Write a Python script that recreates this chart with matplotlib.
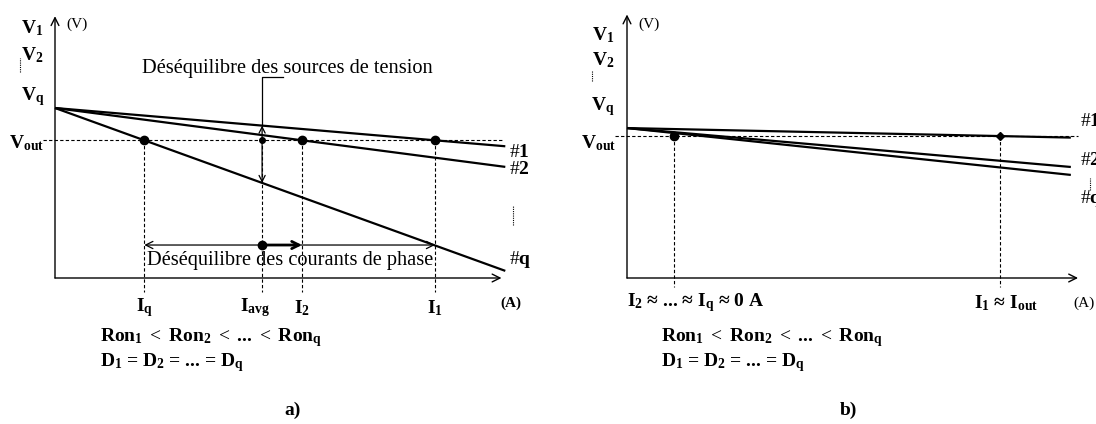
import numpy as np
import matplotlib.pyplot as plt

plt.rcParams['font.family'] = ['Liberation Serif', 'DejaVu Serif']
plt.rcParams['mathtext.fontset'] = 'custom'
plt.rcParams['mathtext.rm'] = 'Liberation Serif'
plt.rcParams['mathtext.bf'] = 'Liberation Serif:bold'
plt.rcParams['mathtext.it'] = 'Liberation Serif:italic'

# --- panel a) : unequal Ron, all phases deliver current
vq_a = 10.0
vout_a = 8.1
phases_a = ['1', '2', 'q']
i_cross_a = [10.0, 6.5, 2.35]    # current of each phase at Vout
i_avg_a = 5.45
i_end_a = 11.85
cur_labels_a = [r'$\mathbf{I_q}$', r'$\mathbf{I_{avg}}$', r'$\mathbf{I_2}$', r'$\mathbf{I_1}$']
cur_values_a = [2.35, 5.45, 6.5, 10.0]

# --- panel b) : phase 1 takes all the current
vq_b = 8.82
vout_b = 8.35
phases_b = ['1', '2', 'q']
ron_b = [0.048, 0.196, 0.236]
i_low_b = 1.24
i_out_b = 9.82
i_end_b = 11.68

ron_text = r'Ron$_\mathbf{1}$ $\mathrm{<}$ Ron$_\mathbf{2}$ $\mathrm{<}$ ... $\mathrm{<}$ Ron$_\mathbf{q}$'
d_text = r'D$_\mathbf{1}$ = D$_\mathbf{2}$ = ... = D$_\mathbf{q}$'

FS = 14
YLIM = (-146 / 17, 278 / 17)
DASH = dict(color='black', lw=0.8, ls=(0, (3, 2)), clip_on=False)


def arrow(ax, start, end, style='->', lw=1.0, ms=14):
    ax.annotate('', xy=end, xytext=start, annotation_clip=False,
                arrowprops=dict(arrowstyle=style, lw=lw, color='black',
                                shrinkA=0, shrinkB=0, mutation_scale=ms))


def draw_frame(ax, xmax, ymax):
    ax.set_ylim(*YLIM)
    ax.axis('off')
    arrow(ax, (0, 0), (0, ymax))
    arrow(ax, (0, 0), (xmax, 0))


def left_labels(ax, ys, xc, dot_x, dot_y):
    names = [r'$\mathbf{V_1}$', r'$\mathbf{V_2}$', r'$\mathbf{V_q}$', r'$\mathbf{V_{out}}$']
    for name, y, x in zip(names, ys, xc):
        ax.text(x, y, name, fontsize=FS, ha='center', va='center')
    ax.plot([dot_x, dot_x], dot_y, color='black', lw=0.8, ls=(0, (1, 1)), clip_on=False)
    ax.text(0.58, 14.9, '(V)', fontsize=11, ha='center', va='center')


fig = plt.figure(figsize=(10.96, 4.24), dpi=100)

# ---------------- a)
ax = fig.add_axes([0, 0, 0.5, 1])
ax.set_xlim(-55 / 38, 493 / 38)
draw_frame(ax, 11.75, 15.4)

ax.plot([-0.32, 11.8], [vout_a, vout_a], **DASH)
for ic in i_cross_a:
    ron = (vq_a - vout_a) / ic
    ax.plot([0, i_end_a], [vq_a, vq_a - ron * i_end_a], color='black', lw=1.6,
            solid_capstyle='butt', clip_on=False)
for ic in cur_values_a:
    ax.plot([ic, ic], [vout_a, -0.82], **DASH)
ax.plot(i_cross_a, [vout_a] * 3, 'o', color='black', ms=6, clip_on=False)
ax.plot([i_avg_a], [vout_a], 'o', color='black', ms=4, clip_on=False)

# voltage unbalance pointer
v1_avg = vq_a - (vq_a - vout_a) / i_cross_a[0] * i_avg_a
vq_avg = vq_a - (vq_a - vout_a) / i_cross_a[2] * i_avg_a
ax.plot([i_avg_a, i_avg_a, 6.0], [v1_avg, 11.8, 11.8], color='black', lw=0.9, clip_on=False)
arrow(ax, (i_avg_a, v1_avg), (i_avg_a, vq_avg), style='<->', lw=0.9, ms=11)
ax.text(6.12, 12.35, 'Déséquilibre des sources de tension', fontsize=14.7,
        ha='center', va='center')

# current unbalance arrows
arrow(ax, (i_cross_a[2], 1.94), (i_cross_a[0], 1.94), style='<->', lw=0.9, ms=13)
arrow(ax, (i_avg_a, 1.94), (i_cross_a[1], 1.94), style='->', lw=2.0, ms=13)
ax.plot([i_avg_a], [1.94], 'o', color='black', ms=6, clip_on=False)
ax.text(6.2, 1.0, 'Déséquilibre des courants de phase', fontsize=14.7,
        ha='center', va='center')

left_labels(ax, [14.7, 13.1, 10.65, 7.94], [-0.6, -0.6, -0.58, -0.76], -0.92, [12.1, 12.94])
for name, y in zip(phases_a, [7.4, 6.4, 1.06]):
    ax.text(11.95, y, '#' + r'$\mathbf{%s}$' % name, fontsize=FS, ha='left', va='center')
ax.plot([12.05, 12.05], [3.1, 4.3], color='black', lw=0.8, ls=(0, (1, 1)), clip_on=False)

for lab, ic in zip(cur_labels_a, cur_values_a):
    off = -0.18 if 'avg' in lab else 0
    ax.text(ic + off, -1.76, lab, fontsize=FS, ha='center', va='center')
ax.text(12.0, -1.47, '(A)', fontsize=11, fontweight='bold', ha='center', va='center')
ax.text(1.18, -3.53, ron_text, fontsize=FS, fontweight='bold', ha='left', va='center')
ax.text(1.18, -5.0, d_text, fontsize=FS, fontweight='bold', ha='left', va='center')
ax.text(6.26, -7.76, 'a)', fontsize=FS, fontweight='bold', ha='center', va='center')

# ---------------- b)
ax = fig.add_axes([0.5, 0, 0.5, 1])
ax.set_xlim(-79 / 38, 469 / 38)
draw_frame(ax, 11.87, 15.5)

ax.plot([-0.32, 11.87], [vout_b, vout_b], **DASH)
for ron in ron_b:
    ax.plot([0, i_end_b], [vq_b, vq_b - ron * i_end_b], color='black', lw=1.6,
            solid_capstyle='butt', clip_on=False)
for ic in [i_low_b, i_out_b]:
    ax.plot([ic, ic], [vout_b, -0.53], **DASH)
ax.plot([i_low_b], [vout_b], 'o', color='black', ms=6, clip_on=False)
ax.plot([i_out_b], [vout_b], 'D', color='black', ms=4, clip_on=False)

left_labels(ax, [14.3, 12.8, 10.06, 7.94], [-0.63, -0.63, -0.63, -0.76], -0.92, [11.6, 12.2])
for name, y in zip(phases_b, [9.18, 6.94, 4.7]):
    ax.text(11.92, y, '#' + r'$\mathbf{%s}$' % name, fontsize=FS, ha='left', va='center')
ax.plot([12.18, 12.18], [5.18, 5.88], color='black', lw=0.8, ls=(0, (1, 1)), clip_on=False)

ax.text(0.0, -1.47, r'I$_\mathbf{2}$ ≈ ... ≈ I$_\mathbf{q}$ ≈ 0 A',
        fontsize=FS, fontweight='bold', ha='left', va='center')
ax.text(9.97, -1.47, r'I$_\mathbf{1}$ ≈ I$_\mathbf{out}$', fontsize=FS, fontweight='bold',
        ha='center', va='center')
ax.text(11.74, -1.47, '(A)', fontsize=11, ha='left', va='center')
ax.text(0.89, -3.53, ron_text, fontsize=FS, fontweight='bold', ha='left', va='center')
ax.text(0.89, -5.0, d_text, fontsize=FS, fontweight='bold', ha='left', va='center')
ax.text(5.84, -7.76, 'b)', fontsize=FS, fontweight='bold', ha='center', va='center')

fig.savefig('out.png', dpi=100)
